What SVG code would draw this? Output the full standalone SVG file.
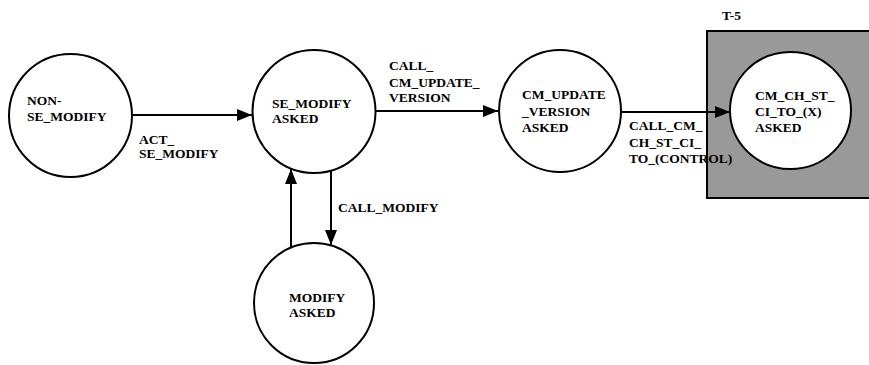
<svg xmlns="http://www.w3.org/2000/svg" width="869" height="365" viewBox="0 0 869 365">
<defs>
<style>
.st{fill:#fff;stroke:#000;stroke-width:2}
.t{font-family:"Liberation Serif","Times New Roman",serif;font-weight:bold;font-size:13.5px;fill:#000}
.c{fill:none;stroke:#000;stroke-width:2}
</style>
<marker id="ah" markerUnits="userSpaceOnUse" markerWidth="16" markerHeight="14" refX="15" refY="6" orient="auto">
<path d="M0,0 L15,6 L0,12 Z" fill="#000"/>
</marker>
</defs>
<rect id="T5-box" x="707" y="31" width="170" height="167" fill="#999999" stroke="#000" stroke-width="2"/>
<text class="t" x="722" y="20">T-5</text>
<g id="connectors">
<line class="c" x1="132" y1="115" x2="252" y2="115" marker-end="url(#ah)"/>
<line class="c" x1="376" y1="111" x2="498" y2="111" marker-end="url(#ah)"/>
<line class="c" x1="622" y1="112" x2="730" y2="112" marker-end="url(#ah)"/>
<line class="c" x1="291" y1="248" x2="291" y2="169" marker-end="url(#ah)"/>
<line class="c" x1="331" y1="171" x2="331" y2="245" marker-end="url(#ah)"/>
<text class="t" x="139" y="144">ACT_</text>
<text class="t" x="139" y="158">SE_MODIFY</text>
<text class="t" x="389" y="70">CALL_</text>
<text class="t" x="389" y="87">CM_UPDATE_</text>
<text class="t" x="389" y="102">VERSION</text>
<text class="t" x="629" y="130">CALL_CM_</text>
<text class="t" x="629" y="147">CH_ST_CI_</text>
<text class="t" x="629" y="163">TO_(CONTROL)</text>
<text class="t" x="338" y="212">CALL_MODIFY</text>
</g>
<g id="non-se-modify">
<circle class="st" cx="70.5" cy="115.5" r="61.5"/>
<text class="t" x="27" y="105">NON-</text>
<text class="t" x="27" y="121">SE_MODIFY</text>
</g>
<g id="se-modify-asked">
<circle class="st" cx="314" cy="111.5" r="61.5"/>
<text class="t" x="272" y="108">SE_MODIFY</text>
<text class="t" x="272" y="123">ASKED</text>
</g>
<g id="cm-update-version-asked">
<circle class="st" cx="560" cy="111" r="61"/>
<text class="t" x="522" y="99">CM_UPDATE</text>
<text class="t" x="522" y="116">_VERSION</text>
<text class="t" x="522" y="132">ASKED</text>
</g>
<g id="cm-ch-st-ci-to-x-asked">
<ellipse class="st" cx="790.5" cy="110.5" rx="60.5" ry="58.5"/>
<text class="t" x="755" y="100">CM_CH_ST_</text>
<text class="t" x="755" y="116">CI_TO_(X)</text>
<text class="t" x="755" y="132">ASKED</text>
</g>
<g id="modify-asked">
<circle class="st" cx="314" cy="303" r="60"/>
<text class="t" x="289" y="302">MODIFY</text>
<text class="t" x="289" y="317">ASKED</text>
</g>
</svg>
